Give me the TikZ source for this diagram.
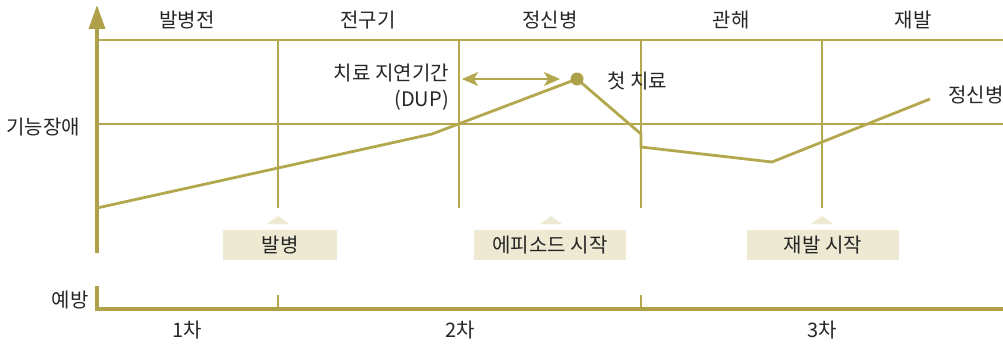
\documentclass[tikz,border=0pt]{standalone}
\usepackage{fontspec}
\setmainfont{Noto Sans CJK KR}
\usetikzlibrary{arrows.meta}
\definecolor{olive}{HTML}{AFA14A}
\definecolor{thinol}{HTML}{B4A84E}
\definecolor{boxfill}{HTML}{EDE9D2}
\definecolor{txt}{HTML}{262626}
\tikzset{
  lbl/.style={text=txt, inner sep=0pt, font=\fontsize{20}{24}\selectfont},
  grid/.style={draw=thinol, line width=1.4pt},
  axis/.style={draw=olive, line width=3.6pt},
  curve/.style={draw=thinol, line width=2.8pt, line join=round},
  tagbox/.style={fill=boxfill, draw=none, minimum height=30pt, inner sep=0pt, text=txt, font=\fontsize{20}{24}\selectfont},
  tri/.style={fill=boxfill, draw=none}
}
\begin{document}
\begin{tikzpicture}[x=1pt,y=-1pt]
\useasboundingbox (0,0) rectangle (1003,345);
% grid lines
\draw[grid] (97,40) -- (1003,40);
\draw[grid] (97,124) -- (1003,124);
\foreach \x in {278,459,641,822} \draw[grid] (\x,40) -- (\x,208);
\draw[grid] (278,295) -- (278,309);
\draw[grid] (641,295) -- (641,309);
% axes
\draw[axis, -{Triangle[length=24pt,width=16pt]}] (97,253) -- (97,5);
\draw[axis] (97,286) -- (97,309) -- (1003,309);
% curve
\coordinate (c0) at (97,208);
\coordinate (c1) at (432,134);
\coordinate (c2) at (577,79);
\coordinate (c3) at (641,134);
\coordinate (c4) at (641,147);
\coordinate (c5) at (772,162);
\coordinate (c6) at (930,99);
\draw[curve] (c0) -- (c1) -- (c2) -- (c3) -- (c4) -- (c5) -- (c6);
\fill[olive] (c2) circle (6.5pt);
% DUP arrow
\coordinate (d0) at (462,79);
\coordinate (d1) at (560,79);
\draw[grid, {Stealth[length=16pt,width=14pt,inset=4pt]}-{Stealth[length=16pt,width=14pt,inset=4pt]}] (d0) -- (d1);
% top labels
\node[lbl] (t1) at (187,20) {발병전};
\node[lbl] (t2) at (368,20) {전구기};
\node[lbl] (t3) at (550,20) {정신병};
\node[lbl] (t4) at (731,20) {관해};
\node[lbl] (t5) at (913,20) {재발};
% side labels
\node[lbl] (yl) at (43,127) {기능장애};
\node[lbl] (pv) at (70,300) {예방};
% annotations
\node[lbl, anchor=east] (dl1) at (449,73) {치료 지연기간};
\node[lbl, anchor=east] (dl2) at (449,100) {(DUP)};
\node[lbl] (ft) at (637,81) {첫 치료};
\node[lbl] (ps) at (976,95) {정신병};
% boxes
\fill[tri] (267,224) -- (289,224) -- (278,216) -- cycle;
\fill[tri] (540,224) -- (562,224) -- (551,216) -- cycle;
\fill[tri] (811,224) -- (833,224) -- (822,216) -- cycle;
\node[tagbox, minimum width=114pt] (b1) at (280,245) {발병};
\node[tagbox, minimum width=152pt] (b2) at (550,245) {에피소드 시작};
\node[tagbox, minimum width=152pt] (b3) at (823,245) {재발 시작};
% bottom labels
\node[lbl] (n1) at (187,330) {1차};
\node[lbl] (n2) at (460,330) {2차};
\node[lbl] (n3) at (822,330) {3차};
\end{tikzpicture}
\end{document}
